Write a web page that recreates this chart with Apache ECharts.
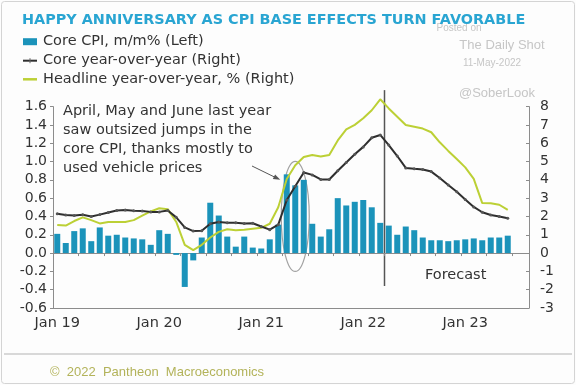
<!DOCTYPE html>
<html><head><meta charset="utf-8">
<script src="https://cdn.jsdelivr.net/npm/echarts@6/dist/echarts.min.js"></script>
<style>html,body{margin:0;padding:0;background:#fff}#c{width:576px;height:385px}</style>
</head><body><div id="c"></div>
<script>
const months = [
 'Jan 19','Feb 19','Mar 19','Apr 19','May 19','Jun 19','Jul 19','Aug 19','Sep 19','Oct 19','Nov 19','Dec 19',
 'Jan 20','Feb 20','Mar 20','Apr 20','May 20','Jun 20','Jul 20','Aug 20','Sep 20','Oct 20','Nov 20','Dec 20',
 'Jan 21','Feb 21','Mar 21','Apr 21','May 21','Jun 21','Jul 21','Aug 21','Sep 21','Oct 21','Nov 21','Dec 21',
 'Jan 22','Feb 22','Mar 22','Apr 22','May 22','Jun 22','Jul 22','Aug 22','Sep 22','Oct 22','Nov 22','Dec 22',
 'Jan 23','Feb 23','Mar 23','Apr 23','May 23','Jun 23','Jul 23','Aug 23'];
const coreMoM = [
 0.21,0.11,0.24,0.27,0.13,0.28,0.19,0.20,0.17,0.16,0.15,0.09,
 0.25,0.21,-0.02,-0.37,-0.08,0.17,0.55,0.41,0.18,0.07,0.18,0.06,
 0.05,0.15,0.31,0.86,0.74,0.80,0.32,0.18,0.26,0.60,0.52,0.56,
 0.58,0.50,0.33,0.30,0.20,0.29,0.25,0.17,0.14,0.14,0.13,0.14,
 0.15,0.16,0.14,0.17,0.17,0.19,null,null];
const coreYoY = [
 2.15,2.08,2.05,2.09,2.00,2.10,2.22,2.33,2.35,2.31,2.30,2.25,
 2.25,2.33,1.95,1.40,1.20,1.22,1.60,1.70,1.66,1.65,1.62,1.63,
 1.45,1.28,1.55,2.90,3.65,4.40,4.27,4.02,4.02,4.50,4.95,5.40,
 5.80,6.30,6.45,5.90,5.30,4.65,4.60,4.56,4.45,4.10,3.72,3.35,
 2.93,2.52,2.23,2.08,2.00,1.90,null,null];
const headlineYoY = [
 1.53,1.50,1.75,1.95,1.80,1.62,1.70,1.70,1.70,1.80,2.05,2.28,
 2.45,2.40,1.70,0.45,0.16,0.45,0.85,1.16,1.30,1.25,1.28,1.33,
 1.38,1.60,2.50,4.05,4.80,5.25,5.36,5.27,5.36,6.15,6.75,7.00,
 7.36,7.80,8.40,7.90,7.45,7.00,6.90,6.80,6.60,6.05,5.58,5.14,
 4.68,4.05,2.73,2.72,2.64,2.36,null,null];
const xTickLabels = ['Jan 19','Jan 20','Jan 21','Jan 22','Jan 23'];
const leftTicks = [-0.6,-0.4,-0.2,0.0,0.2,0.4,0.6,0.8,1.0,1.2,1.4,1.6];
const rightTicks = [-3,-2,-1,0,1,2,3,4,5,6,7,8];
const seriesNames = ['Core CPI, m/m% (Left)','Core year-over-year (Right)','Headline year-over-year, % (Right)'];
const lastActual = 'Mar 22', firstForecast = 'Apr 22';
const jumpMonth = 'May 21';

const FF = "'DejaVu Sans', sans-serif";
const BAR = '#1b93ba', CORE = '#2e2e2e', HEAD = '#bcd035', AX = '#8c8c8c', TXT = '#333';

const chart = echarts.init(document.getElementById('c'));
const option = {
  animation: false,
  backgroundColor: '#fdfdfd',
  title: { text: 'HAPPY ANNIVERSARY AS CPI BASE EFFECTS TURN FAVORABLE', left: 17, top: 8,
    textStyle: { fontFamily: FF, fontSize: 14.4, fontWeight: 'bold', color: '#29a5d2' } },
  grid: { left: 53, right: 47, top: 106.6, bottom: 77 },
  xAxis: [
    { type: 'category', data: months, boundaryGap: true, position: 'bottom',
      axisLine: { onZero: false, lineStyle: { color: AX } }, axisTick: { show: false },
      axisLabel: { interval: (i, v) => xTickLabels.includes(v), fontFamily: FF, fontSize: 14.5, color: TXT, margin: 8 } },
    { type: 'category', data: months, boundaryGap: true, position: 'bottom',
      axisLine: { onZero: true, onZeroAxisIndex: 0, lineStyle: { color: AX } },
      axisTick: { show: true, interval: (i) => i % 3 === 0, length: 3, lineStyle: { color: AX } },
      axisLabel: { show: false } }
  ],
  yAxis: [
    { type: 'value', position: 'left', min: leftTicks[0], max: leftTicks[leftTicks.length - 1], interval: 0.2,
      axisLine: { show: true, lineStyle: { color: AX } }, axisTick: { show: true, length: 3, lineStyle: { color: AX } },
      splitLine: { show: false },
      axisLabel: { formatter: v => v.toFixed(1), fontFamily: FF, fontSize: 14, color: TXT, margin: 6 } },
    { type: 'value', position: 'right', min: rightTicks[0], max: rightTicks[rightTicks.length - 1], interval: 1,
      axisLine: { show: true, lineStyle: { color: AX } }, axisTick: { show: true, inside: true, length: 3, lineStyle: { color: AX } },
      splitLine: { show: false },
      axisLabel: { fontFamily: FF, fontSize: 14, color: TXT, margin: 11 } }
  ],
  series: [
    { name: seriesNames[0], type: 'bar', xAxisIndex: 0, yAxisIndex: 0, data: coreMoM, barWidth: 6,
      itemStyle: { color: BAR } },
    { name: seriesNames[2], type: 'line', xAxisIndex: 0, yAxisIndex: 1, data: headlineYoY, showSymbol: false,
      symbol: 'none', clip: false, lineStyle: { color: HEAD, width: 2 }, itemStyle: { color: HEAD } },
    { name: seriesNames[1], type: 'line', xAxisIndex: 0, yAxisIndex: 1, data: coreYoY, symbol: 'circle', symbolSize: 3,
      clip: false, lineStyle: { color: CORE, width: 2 }, itemStyle: { color: '#555' } }
  ]
};
chart.setOption(option);

// annotations derived from the chart's own scales
const pL = (cat, v) => chart.convertToPixel({ seriesIndex: 0 }, [cat, v]);
const pR = (cat, v) => chart.convertToPixel({ seriesIndex: 2 }, [cat, v]);
const vx = (pL(lastActual, 0)[0] + pL(firstForecast, 0)[0]) / 2;
const vTop = pR(lastActual, 8.9)[1], vBot = pR(lastActual, -1.8)[1];
const ec = pL(jumpMonth, 0.4);
const rx = 14, ry = 55;
const tip = [ec[0] - rx - 1, pL(jumpMonth, 0.8)[1]];
const tail = [252, 166];
const dx = tip[0] - tail[0], dy = tip[1] - tail[1], dl = Math.hypot(dx, dy);
const ux = dx / dl, uy = dy / dl, hl = 7, hw = 2.6;
const head = [tip, [tip[0] - ux * hl - uy * hw, tip[1] - uy * hl + ux * hw], [tip[0] - ux * hl + uy * hw, tip[1] - uy * hl - ux * hw]];
const grey = '#c6c6c6';
const lgY = [41.7, 60.7, 79.3], lgX = 23, lgW = 14, lgT = 43;
const lgFont = "14.5px " + FF;
chart.setOption({ graphic: [
  { type: 'rect', shape: { x: 1.5, y: 1.5, width: 573, height: 382, r: 3 }, style: { fill: null, stroke: '#d4d4d4', lineWidth: 1 }, z: 0 },
  { type: 'line', shape: { x1: 4, y1: 354, x2: 572, y2: 354 }, style: { stroke: '#b4b4b4', lineWidth: 1.2 } },
  { type: 'text', left: 50, top: 366, style: { text: '\u00A9  2022  Pantheon  Macroeconomics', font: "13px 'Liberation Sans', sans-serif", fill: '#b3b35a' } },
  // legend
  { type: 'rect', shape: { x: lgX, y: lgY[0] - 3.5, width: lgW, height: 7 }, style: { fill: BAR } },
  { type: 'line', shape: { x1: lgX, y1: lgY[1], x2: lgX + lgW, y2: lgY[1] }, style: { stroke: CORE, lineWidth: 2 } },
  { type: 'line', shape: { x1: lgX + lgW / 2, y1: lgY[1] - 2.5, x2: lgX + lgW / 2, y2: lgY[1] + 2.5 }, style: { stroke: '#666', lineWidth: 1 } },
  { type: 'line', shape: { x1: lgX, y1: lgY[2], x2: lgX + lgW, y2: lgY[2] }, style: { stroke: HEAD, lineWidth: 2.5 } },
  { type: 'text', x: lgT, y: lgY[0], style: { text: seriesNames[0], font: lgFont, fill: TXT, verticalAlign: 'middle' } },
  { type: 'text', x: lgT, y: lgY[1], style: { text: seriesNames[1], font: lgFont, fill: TXT, verticalAlign: 'middle' } },
  { type: 'text', x: lgT, y: lgY[2], style: { text: seriesNames[2], font: lgFont, fill: TXT, verticalAlign: 'middle' } },
  // watermarks
  { type: 'text', x: 459, y: 28, style: { text: 'Posted on', font: "10px 'Liberation Sans', sans-serif", fill: grey, align: 'center', verticalAlign: 'middle' } },
  { type: 'text', x: 502, y: 45, style: { text: 'The Daily Shot', font: "13px 'Liberation Sans', sans-serif", fill: grey, align: 'center', verticalAlign: 'middle' } },
  { type: 'text', x: 492, y: 63, style: { text: '11-May-2022', font: "10px 'Liberation Sans', sans-serif", fill: grey, align: 'center', verticalAlign: 'middle' } },
  { type: 'text', x: 497, y: 93, style: { text: '@SoberLook', font: "13px 'Liberation Sans', sans-serif", fill: grey, align: 'center', verticalAlign: 'middle' } },
  // annotations
  { type: 'text', x: 63, y: 101.5, style: { text: 'April, May and June last year\nsaw outsized jumps in the\ncore CPI, thanks mostly to\nused vehicle prices',
      font: "14.5px " + FF, lineHeight: 19, fill: TXT, verticalAlign: 'top' } },
  { type: 'text', x: 425, y: 275, style: { text: 'Forecast', font: "14.5px " + FF, fill: TXT, verticalAlign: 'middle' } },
  { type: 'line', shape: { x1: vx, y1: vTop, x2: vx, y2: vBot }, style: { stroke: '#555', lineWidth: 1.5 } },
  { type: 'ellipse', shape: { cx: ec[0], cy: ec[1], rx: rx, ry: ry }, style: { fill: null, stroke: '#a2a2a2', lineWidth: 1.2 } },
  { type: 'line', shape: { x1: tail[0], y1: tail[1], x2: tip[0] - ux * 3, y2: tip[1] - uy * 3 }, style: { stroke: '#555', lineWidth: 1 } },
  { type: 'polygon', shape: { points: head }, style: { fill: '#555' } }
]});
</script></body></html>
